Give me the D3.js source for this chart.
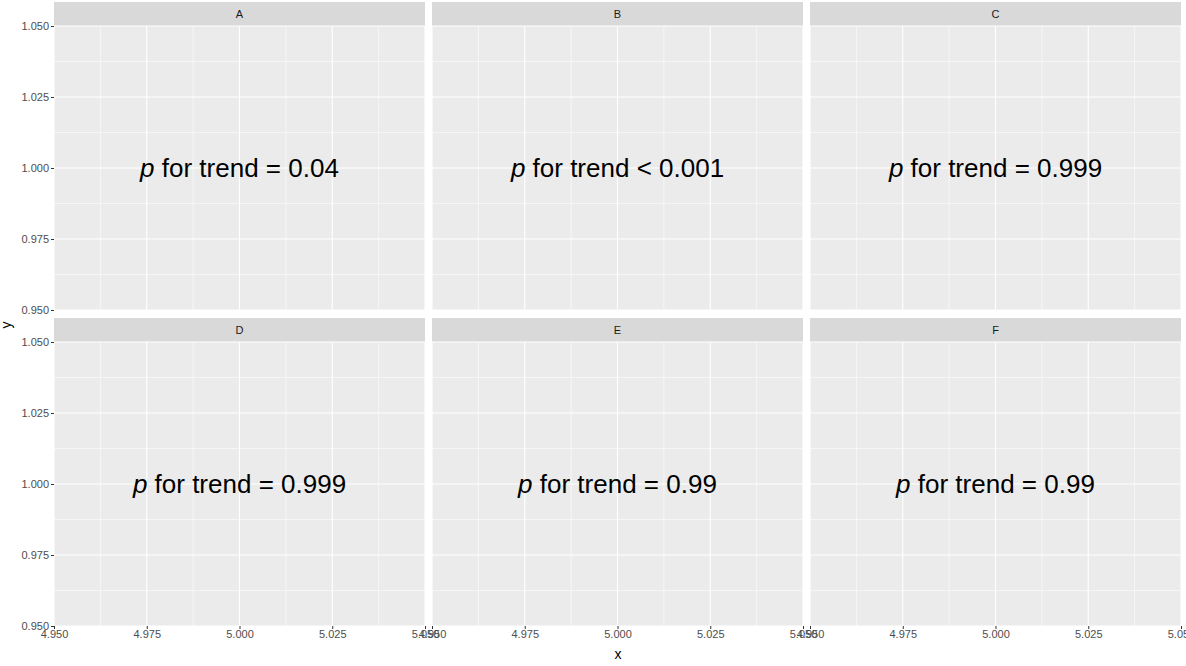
<!DOCTYPE html>
<html>
<head>
<meta charset="utf-8" />
<style>body{margin:0;background:#fff}text{font-family:"Liberation Sans",Arial,sans-serif}</style>
</head>
<body>
<script src="https://d3js.org/d3.v7.min.js"></script>
<script>
const panels = ["A", "B", "C", "D", "E", "F"];
const ops = ["=", "<", "=", "=", "=", "="];
const pvals = ["0.04", "0.001", "0.999", "0.999", "0.99", "0.99"];
const xTicks = [4.950, 4.975, 5.000, 5.025, 5.050];
const yTicks = [0.950, 0.975, 1.000, 1.025, 1.050];

const W = 1186, H = 666;
const svg = d3.select("body").append("svg").attr("width", W).attr("height", H);

const colX = [54, 432, 810], pw = 371;
const rowY = [2, 318], stripH = 24, ph = 284;

panels.forEach(function (name, i) {
    var c = i % 3, r = Math.floor(i / 3);
    var x0 = colX[c], y0 = rowY[r] + stripH;
    var x = d3.scaleLinear().domain([4.95, 5.05]).range([x0, x0 + pw]);
    var y = d3.scaleLinear().domain([0.95, 1.05]).range([y0 + ph, y0]);
    var g = svg.append("g");
    g.append("rect").attr("x", x0).attr("y", rowY[r]).attr("width", pw).attr("height", stripH).attr("fill", "#d9d9d9");
    g.append("text").attr("x", x0 + pw / 2).attr("y", rowY[r] + stripH / 2 + 4).attr("text-anchor", "middle")
        .attr("font-size", 11).attr("fill", "#1a1a1a").text(name);
    g.append("rect").attr("x", x0).attr("y", y0).attr("width", pw).attr("height", ph).attr("fill", "#ebebeb");
    var minorX = d3.range(4.9625, 5.05, 0.025), minorY = d3.range(0.9625, 1.05, 0.025);
    g.selectAll(".mx").data(minorX).enter().append("line")
        .attr("x1", d => x(d)).attr("x2", d => x(d)).attr("y1", y0).attr("y2", y0 + ph)
        .attr("stroke", "#fff").attr("stroke-width", 0.55);
    g.selectAll(".my").data(minorY).enter().append("line")
        .attr("y1", d => y(d)).attr("y2", d => y(d)).attr("x1", x0).attr("x2", x0 + pw)
        .attr("stroke", "#fff").attr("stroke-width", 0.55);
    g.selectAll(".gx").data(xTicks).enter().append("line")
        .attr("x1", d => x(d)).attr("x2", d => x(d)).attr("y1", y0).attr("y2", y0 + ph)
        .attr("stroke", "#fff").attr("stroke-width", 1.1);
    g.selectAll(".gy").data(yTicks).enter().append("line")
        .attr("y1", d => y(d)).attr("y2", d => y(d)).attr("x1", x0).attr("x2", x0 + pw)
        .attr("stroke", "#fff").attr("stroke-width", 1.1);

    var t = g.append("text").attr("x", x(5.0)).attr("y", y(1.0) + 9).attr("text-anchor", "middle")
        .attr("font-size", 26).attr("fill", "#000");
    t.append("tspan").attr("font-style", "italic").text("p");
    t.append("tspan").text(" for trend " + ops[i] + " " + pvals[i]);

    if (c == 0) {
        var ay = g.append("g").attr("transform", "translate(" + x0 + ",0)")
            .call(d3.axisLeft(y).tickValues(yTicks).tickFormat(d3.format(".3f")).tickSize(3).tickPadding(2));
        ay.select(".domain").remove();
        ay.selectAll("line").attr("stroke", "#333");
        ay.selectAll("text").attr("fill", "#4d4d4d").attr("font-size", 11);
    }
    if (r == 1) {
        var ax = g.append("g").attr("transform", "translate(0," + (y0 + ph) + ")")
            .call(d3.axisBottom(x).tickValues(xTicks).tickFormat(d3.format(".3f")).tickSize(3).tickPadding(1));
        ax.select(".domain").remove();
        ax.selectAll("line").attr("stroke", "#333");
        ax.selectAll("text").attr("fill", "#4d4d4d").attr("font-size", 11);
    }
});

svg.append("text").attr("x", 618).attr("y", 659).attr("text-anchor", "middle").attr("font-size", 14).attr("fill", "#000").text("x");
svg.append("text").attr("transform", "translate(11,325) rotate(-90)").attr("text-anchor", "middle").attr("font-size", 14).attr("fill", "#000").text("y");
</script>
</body>
</html>
